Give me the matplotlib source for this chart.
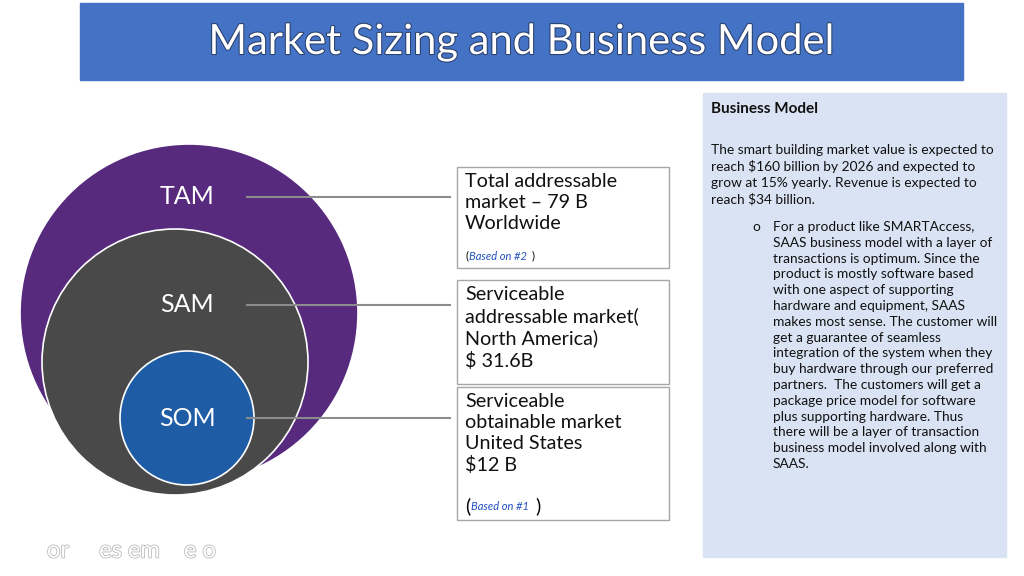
import matplotlib.pyplot as plt
from matplotlib.patches import Circle, Rectangle
import matplotlib.patheffects as pe

# data
segments = ["TAM", "SAM", "SOM"]
market_values_b = [79, 31.6, 12]
box_texts = [
    "Total addressable\nmarket \u2013 79 B\nWorldwide",
    "Serviceable\naddressable market(\nNorth America)\n$ 31.6B",
    "Serviceable\nobtainable market\nUnited States\n$12 B",
]
sources = ["Based on #2", None, "Based on #1"]
panel_intro = ("The smart building market value is expected to\n"
               "reach $160 billion by 2026 and expected to\n"
               "grow at 15% yearly. Revenue is expected to\n"
               "reach $34 billion.")
panel_bullet = ("For a product like SMARTAccess,\n"
                "SAAS business model with a layer of\n"
                "transactions is optimum. Since the\n"
                "product is mostly software based\n"
                "with one aspect of supporting\n"
                "hardware and equipment, SAAS\n"
                "makes most sense. The customer will\n"
                "get a guarantee of seamless\n"
                "integration of the system when they\n"
                "buy hardware through our preferred\n"
                "partners.  The customers will get a\n"
                "package price model for software\n"
                "plus supporting hardware. Thus\n"
                "there will be a layer of transaction\n"
                "business model involved along with\n"
                "SAAS.")

plt.rcParams["font.family"] = "Lato"
fig = plt.figure(figsize=(10.24, 5.76), dpi=100)
ax = fig.add_axes([0, 0, 1, 1])
ax.set_xlim(0, 1024)
ax.set_ylim(576, 0)
ax.axis("off")

# title banner
ax.add_patch(Rectangle((80, 3), 883, 77, color="#4472C4"))
ax.text(521, 42, "Market Sizing and Business Model", color="white",
        fontsize=30, ha="center", va="center",
        path_effects=[pe.withStroke(linewidth=1.5, foreground="#2a3f6a")])

# concentric circles
circles = [((189, 313), 169, "#582A7E"), ((175, 362), 133, "#494949"), ((187, 418), 67, "#1E5DA6")]
label_y = [197, 305, 418]
for (c, r, col), name, ly in zip(circles, segments, label_y):
    ax.add_patch(Circle(c, r, facecolor=col, edgecolor="white", lw=1.2))
    ax.text(187, ly, name, color="white", fontsize=18, ha="center", va="center")
    ax.plot([247, 450], [ly, ly], color="#8c8c8c", lw=1.5)

# text boxes
boxes = [(457, 167, 212, 101), (457, 280, 212, 104), (457, 387, 212, 133)]
source_y = [256, None, 506]
for (x, y, w, h), txt, src, sy in zip(boxes, box_texts, sources, source_y):
    ax.add_patch(Rectangle((x, y), w, h, facecolor="white", edgecolor="#a6a6a6", lw=1))
    ax.text(x + 8, y + 6, txt, fontsize=14.2, va="top", linespacing=1.29, color="#111111")
    if src == "Based on #1":
        ax.text(x + 8, sy, "(", fontsize=14, va="center")
        ax.text(x + 14, sy + 1, src, fontsize=8, va="center", color="#1f4fbf", style="italic")
        ax.text(x + 78, sy, ")", fontsize=14, va="center")
    elif src:
        ax.text(x + 8, sy, "(", fontsize=8, va="center")
        ax.text(x + 12, sy, src, fontsize=8, va="center", color="#1f4fbf", style="italic")
        ax.text(x + 75, sy, ")", fontsize=8, va="center")

# right panel
ax.add_patch(Rectangle((703, 93), 303, 464, color="#DAE3F3"))
ax.text(711, 109, "Business Model", fontsize=11, weight="bold", va="center", color="#111111")
ax.text(711, 144, panel_intro, fontsize=9.9, va="top", linespacing=1.38, color="#111111")
ax.text(752, 221, "o", fontsize=9.9, va="top", color="#111111")
ax.text(773, 221, panel_bullet, fontsize=9.9, va="top", linespacing=1.38, color="#111111")

# faint ghost footer
ax.text(47, 551, "or     es em    e o", fontsize=17, va="center", color="white",
        path_effects=[pe.withStroke(linewidth=1.2, foreground="#bbbbbb")])

fig.savefig("out.png", dpi=100)
